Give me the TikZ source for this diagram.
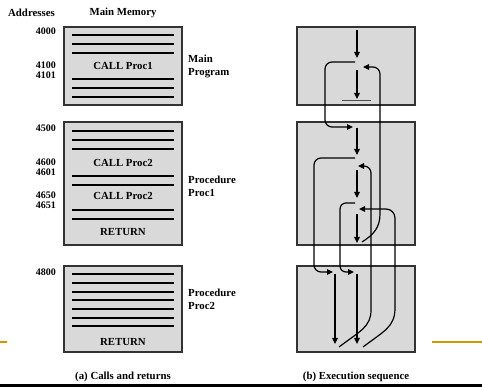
\documentclass[tikz,border=0pt]{standalone}
\usepackage{fontspec}
\setmainfont{Liberation Serif}
\usetikzlibrary{arrows.meta}
\definecolor{boxgray}{RGB}{217,217,217}
\definecolor{slidegold}{RGB}{204,153,0}
\tikzset{
  membox/.style={draw=black!80, fill=boxgray, line width=1.6pt, minimum width=118pt, inner sep=0pt},
  codeline/.style={line width=1.3pt},
  flow/.style={-{Triangle[length=6pt, width=5.5pt]}, line width=1.2pt},
  txt/.style={font=\fontsize{10.8}{13.5}\selectfont\bfseries, inner sep=0pt},
  addr/.style={font=\fontsize{10}{11}\selectfont\bfseries, inner sep=0pt, anchor=east}
}

\begin{document}
\begin{tikzpicture}[x=1pt, y=-1pt]
        \useasboundingbox (0,0) rectangle (482,387);
        \node[txt] (addrhead) at (31.5,13) {Addresses};
        \node[txt] (memhead)  at (123,13)  {Main Memory};
        \node[membox, minimum height=78pt]  (mainmem)  at (123,66)    {};
        \node[membox, minimum height=123pt] (proconemem) at (123,183.5) {};
        \node[membox, minimum height=86pt]  (proctwomem) at (123,309)   {};
        \foreach \y in {35,44,53,79,88,97,131,140,149,176,185,210,219,274,283,292,300,309,318,326}
          \draw[codeline] (72,\y) -- (174,\y);
        \node[txt] (callone)  at (123,66)  {CALL Proc1};
        \node[txt] (calltwoa) at (123,163) {CALL Proc2};
        \node[txt] (calltwob) at (123,196) {CALL Proc2};
        \node[txt] (retone)   at (123,232) {RETURN};
        \node[txt] (rettwo)   at (123,342) {RETURN};
        \node[addr] (a4000) at (56,31)    {4000};
        \node[addr] (a4100) at (56,65.5)  {4100};
        \node[addr] (a4101) at (56,75.5)  {4101};
        \node[addr] (a4500) at (56,128)   {4500};
        \node[addr] (a4600) at (56,162.5) {4600};
        \node[addr] (a4601) at (56,172.5) {4601};
        \node[addr] (a4650) at (56,195.5) {4650};
        \node[addr] (a4651) at (56,205.5) {4651};
        \node[addr] (a4800) at (56,272)   {4800};
        \node[txt, align=left, anchor=west] (mainlbl)    at (188,66.5) {Main\\Program};
        \node[txt, align=left, anchor=west] (proconelbl) at (188,186.5) {Procedure\\Proc1};
        \node[txt, align=left, anchor=west] (proctwolbl) at (188,299.5) {Procedure\\Proc2};
        \node[txt] (capa) at (123,377) {(a) Calls and returns};
        \node[membox, minimum height=78pt]  (mainexec)    at (356,66)    {};
        \node[membox, minimum height=123pt] (proconeexec) at (356,183.5) {};
        \node[membox, minimum height=86pt]  (proctwoexec) at (356,309)   {};
        \draw[flow] (357,30) -- (357,58);
        \draw[flow, rounded corners=7pt] (355,62) -- (325,62) -- (325,127) -- (353,127);
        \draw[flow] (357,70) -- (357,99);
        \draw[black!70, line width=1pt] (342,101) -- (371,101);
        \draw[flow] (357,128) -- (357,155);
        \draw[flow, rounded corners=7pt] (355,158) -- (314,158) -- (314,272) -- (333,272);
        \draw[flow] (357,170) -- (357,198);
        \draw[flow, rounded corners=6pt] (355,203) -- (340,203) -- (340,272) -- (354,272);
        \draw[flow] (357,214) -- (357,243);
        \draw[flow] (335,274) -- (335,344);
        \draw[flow] (357,274) -- (357,344);
        \draw[flow] (339,347) .. controls (360,331) and (371,327) .. (371,310)
                    [rounded corners=7pt] -- (371,166) -- (358,166);
        \draw[flow] (363,347) .. controls (384,331) and (395,327) .. (395,308)
                    [rounded corners=9pt] -- (395,209) -- (359,209);
        \draw[flow] (362,242) .. controls (373,235) and (380,228) .. (380,214)
                    [rounded corners=7pt] -- (380,67) -- (363,67);
        \node[txt] (capb) at (356,377) {(b) Execution sequence};
        \draw[slidegold, line width=2pt] (0,342.5) -- (7,342.5);
        \draw[slidegold, line width=2pt] (432,342.5) -- (482,342.5);
        \fill (0,383.5) rectangle (482,387);
      \end{tikzpicture}
\end{document}
